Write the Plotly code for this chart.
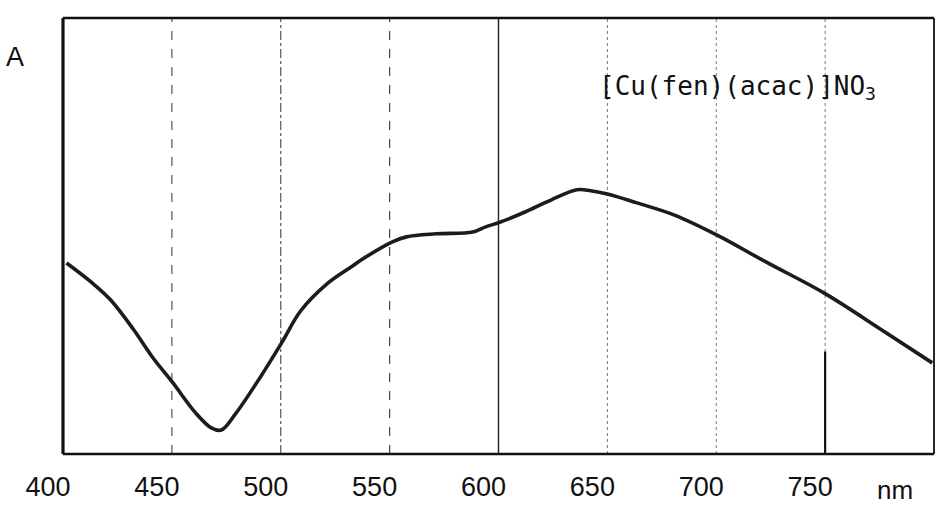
import plotly.graph_objects as go

# Absorption spectrum of [Cu(fen)(acac)]NO3 (arbitrary absorbance units)
wavelength_nm = [401.6, 413.0, 421.9, 432.3, 441.1, 450.5, 460.6, 468.1, 472.7, 479.2,
                 489.8, 500.4, 509.1, 520.7, 532.3, 538.5, 551.0, 557.7, 571.4,
                 588.2, 594.1, 600.9, 612.2, 624.3, 636.0, 642.3, 650.5, 663.6, 680.8,
                 700.4, 723.0, 749.6, 776.2, 799.2]
absorbance = [0.438, 0.394, 0.353, 0.286, 0.222, 0.163, 0.096, 0.060, 0.055, 0.092,
              0.170, 0.255, 0.328, 0.388, 0.429, 0.450, 0.486, 0.498, 0.505,
              0.509, 0.521, 0.532, 0.555, 0.583, 0.606, 0.604, 0.596, 0.576, 0.548,
              0.502, 0.440, 0.369, 0.284, 0.209]

tick_values = [400, 450, 500, 550, 600, 650, 700, 750]
tick_labels = ["400", "450", "500", "550", "600", "650", "700", "750"]
grid_values = [450, 500, 550, 600, 650, 700, 750]
grid_dash = ["dash", "dashdot", "dash", "solid", "dot", "dot", "dot"]
grid_width = [1.2, 1.2, 1.2, 1.4, 1.0, 1.0, 1.0]
grid_color = ["#555", "#555", "#444", "#222", "#777", "#777", "#777"]

fig = go.Figure()
fig.add_trace(go.Scatter(
    x=wavelength_nm, y=absorbance, mode="lines",
    line=dict(color="#1c1c1c", width=3.6, shape="spline", smoothing=1.0),
    hoverinfo="skip", showlegend=False,
))

shapes = []
for gv, gd, gw, gc in zip(grid_values, grid_dash, grid_width, grid_color):
    shapes.append(dict(type="line", xref="x", yref="paper", x0=gv, x1=gv, y0=0, y1=1,
                       line=dict(color=gc, width=gw, dash=gd), layer="below"))
# solid lower part of the 750 line
shapes.append(dict(type="line", xref="x", yref="paper", x0=750, x1=750, y0=0, y1=0.235,
                   line=dict(color="#111", width=2.2), layer="below"))
# frame
shapes += [
    dict(type="line", xref="paper", yref="paper", x0=0, x1=0, y0=0, y1=1,
         line=dict(color="#111", width=3.2)),
    dict(type="line", xref="paper", yref="paper", x0=0, x1=1, y0=1, y1=1,
         line=dict(color="#111", width=2.6)),
    dict(type="line", xref="paper", yref="paper", x0=0, x1=1, y0=0, y1=0,
         line=dict(color="#111", width=2.6)),
    dict(type="line", xref="paper", yref="paper", x0=1, x1=1, y0=0, y1=1,
         line=dict(color="#111", width=1.8)),
]

fig.update_layout(
    width=936, height=510,
    margin=dict(l=63, r=2, t=18, b=56),
    paper_bgcolor="white", plot_bgcolor="white",
    shapes=shapes,
    xaxis=dict(range=[400, 800], tickvals=tick_values, ticktext=tick_labels,
               showgrid=False, zeroline=False, showline=False, ticks="",
               tickfont=dict(family="Liberation Sans", size=27, color="#111"),
               ticklabelshift=-15, ticklabelstandoff=14),
    yaxis=dict(range=[0, 1], showticklabels=False, showgrid=False,
               zeroline=False, showline=False, ticks=""),
    annotations=[
        dict(text="A", xref="paper", yref="paper", x=-0.055, y=0.91,
             xanchor="center", yanchor="middle", showarrow=False,
             font=dict(family="Liberation Sans", size=27, color="#111")),
        dict(text="nm", xref="x", yref="paper", x=782, y=-0.083,
             xanchor="center", yanchor="middle", showarrow=False,
             font=dict(family="Liberation Sans", size=26, color="#111")),
        dict(text="[Cu(fen)(acac)]NO<sub>3</sub>", xref="paper", yref="paper",
             x=(598 - 63) / 872, y=(454 - 87) / 436,
             xanchor="left", yanchor="middle", showarrow=False,
             font=dict(family="DejaVu Sans Mono", size=26, color="#111")),
    ],
)

fig.write_html("out.html")
